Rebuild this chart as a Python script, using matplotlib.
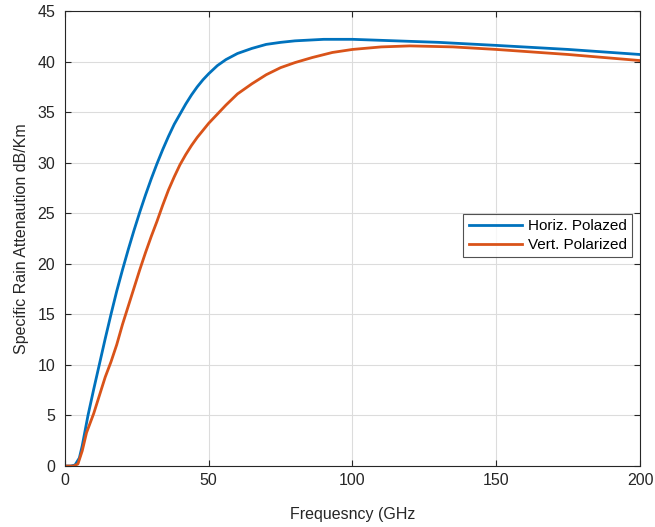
import matplotlib
matplotlib.use("Agg")
import matplotlib.pyplot as plt

# frequency (GHz) and specific attenuation (dB/km)
freq_h = [0, 2, 3.5, 5, 6, 7, 8, 10, 12, 14, 16, 18, 20, 22, 24, 26, 28, 30, 32, 34, 36, 38,
          40, 42, 44, 46, 48, 50, 53, 56, 60, 65, 70, 75, 80, 90, 100, 110, 120, 130, 150, 175, 200]
atten_h = [0, 0, 0.1, 0.8, 2.0, 3.5, 5.0, 7.6, 10.1, 12.6, 15.0, 17.3, 19.4, 21.4, 23.3, 25.1,
           26.8, 28.4, 29.9, 31.3, 32.6, 33.8, 34.8, 35.8, 36.7, 37.5, 38.2, 38.8, 39.6, 40.2,
           40.8, 41.3, 41.7, 41.9, 42.05, 42.2, 42.2, 42.1, 42.0, 41.9, 41.6, 41.2, 40.7]

freq_v = [0, 3, 4.5, 6, 7.5, 10, 12, 14, 16, 18, 20, 22, 24, 26, 28, 30, 32, 34, 36, 38, 40,
          42, 44, 46, 48, 50, 53, 56, 60, 65, 70, 75, 80, 86, 93, 100, 110, 120, 135, 150, 175, 200]
atten_v = [0, 0, 0.2, 1.5, 3.3, 5.2, 7.0, 8.8, 10.3, 12.0, 14.0, 15.8, 17.6, 19.4, 21.1, 22.7,
           24.2, 25.8, 27.3, 28.6, 29.8, 30.8, 31.7, 32.5, 33.2, 33.9, 34.8, 35.7, 36.8, 37.8,
           38.7, 39.4, 39.9, 40.4, 40.9, 41.2, 41.45, 41.55, 41.45, 41.2, 40.7, 40.1]

labels = ["Horiz. Polazed", "Vert. Polarized"]
colors = ["#0072BD", "#D95319"]

plt.rcParams["font.family"] = ["Liberation Sans", "DejaVu Sans"]

fig = plt.figure(figsize=(6.55, 5.27), dpi=100)
ax = fig.add_axes([0.0992, 0.1157, 0.8779, 0.8634])

ax.plot(freq_h, atten_h, color=colors[0], linewidth=2.0, label=labels[0])
ax.plot(freq_v, atten_v, color=colors[1], linewidth=2.0, label=labels[1])

ax.set_xlim(0, 200)
ax.set_ylim(0, 45)
ax.set_xticks(range(0, 201, 50))
ax.set_yticks(range(0, 46, 5))
ax.grid(True, color="#dcdcdc", linewidth=0.8)
ax.set_axisbelow(True)
ax.tick_params(direction="in", top=True, right=True, labelsize=11.5, colors="#262626", length=4)
ax.tick_params(axis="y", pad=7)
ax.tick_params(axis="x", pad=5)
for spine in ax.spines.values():
    spine.set_color("#262626")
    spine.set_linewidth(0.8)

ax.set_xlabel("Frequesncy (GHz", fontsize=11.5, color="#262626", labelpad=14)
ax.set_ylabel("Specific Rain Attenaution dB/Km", fontsize=11.5, color="#262626", labelpad=6)

leg = ax.legend(loc="upper right", bbox_to_anchor=(0.986, 0.554), fontsize=11,
                frameon=True, fancybox=False, edgecolor="#262626", handlelength=3.5,
                borderpad=0.35, labelspacing=0.3, handletextpad=0.35, borderaxespad=0)
leg.get_frame().set_linewidth(0.8)

fig.savefig("out.png", dpi=100)
